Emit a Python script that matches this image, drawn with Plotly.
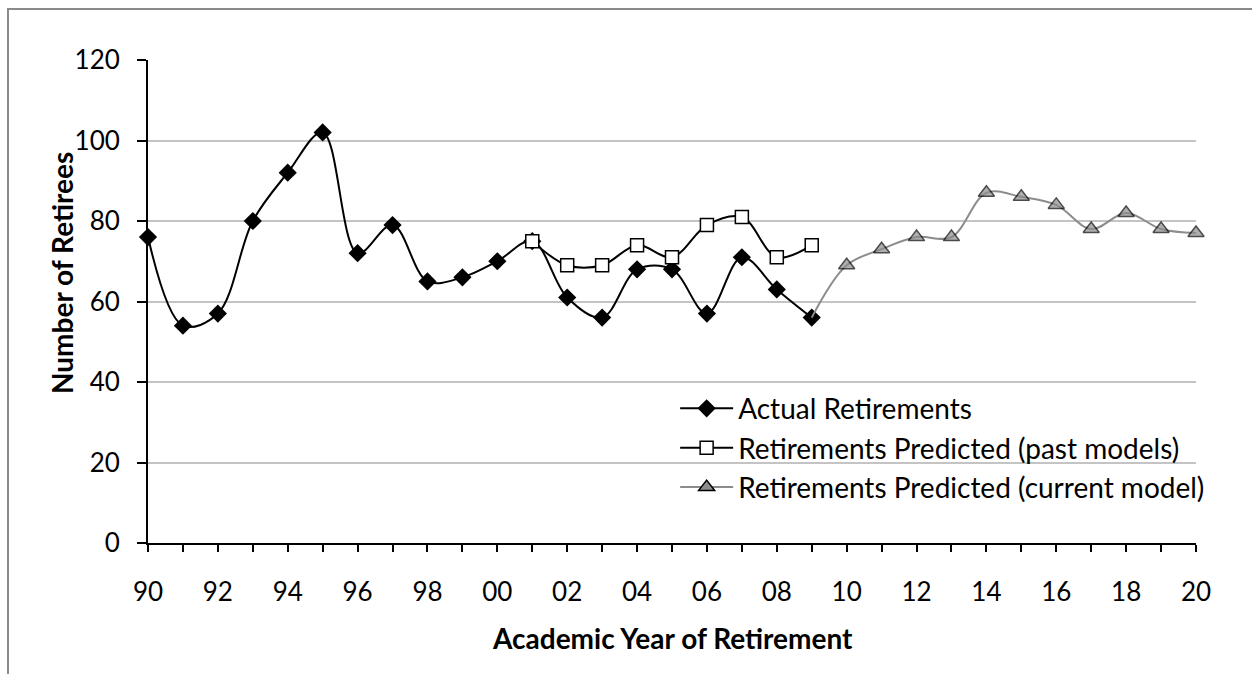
import plotly.graph_objects as go

# Academic years 1990 through 2020, shown as two-digit labels
years = ["90", "91", "92", "93", "94", "95", "96", "97", "98", "99",
         "00", "01", "02", "03", "04", "05", "06", "07", "08", "09",
         "10", "11", "12", "13", "14", "15", "16", "17", "18", "19", "20"]

# Actual retirements, 1990-2009
actual = [76, 54, 57, 80, 92, 102, 72, 79, 65, 66,
          70, 75, 61, 56, 68, 68, 57, 71, 63, 56]

# Predictions from past models, 2001-2009
past_years = ["01", "02", "03", "04", "05", "06", "07", "08", "09"]
past_pred = [75, 69, 69, 74, 71, 79, 81, 71, 74]

# Current model predictions, 2010-2020 (joined to the last actual value in 2009)
current_years = ["09", "10", "11", "12", "13", "14", "15", "16", "17", "18", "19", "20"]
current_pred = [56, 69, 73, 76, 76, 87, 86, 84, 78, 82, 78, 77]

y_ticks = [0, 20, 40, 60, 80, 100, 120]

idx = {y: i for i, y in enumerate(years)}
FONT = "Lato, 'Open Sans', sans-serif"
GRAY = "#8c8c8c"

actual_line = dict(color="black", width=2, shape="spline", smoothing=1)
actual_marker = dict(symbol="diamond", size=14, color="black")
past_line = dict(color="black", width=2, shape="spline", smoothing=1)
past_marker = dict(symbol="square", size=13, color="white",
                   line=dict(color="black", width=1.5))
cur_line = dict(color=GRAY, width=2, shape="spline", smoothing=1)
cur_marker = dict(symbol="triangle-up", size=14, color=GRAY,
                  line=dict(color="black", width=1.5))

fig = go.Figure()

fig.add_trace(go.Scatter(
    x=[idx[y] for y in years[:len(actual)]], y=actual,
    name="Actual Retirements", mode="lines+markers",
    line=actual_line, marker=actual_marker,
    cliponaxis=False, legendgroup="a",
))

fig.add_trace(go.Scatter(
    x=[idx[y] for y in past_years], y=past_pred,
    name="Retirements Predicted (past models)", mode="lines+markers",
    line=past_line, marker=past_marker,
    cliponaxis=False, legendgroup="b",
))

# Current-model curve: the first point (2009) only anchors the line, no marker
fig.add_trace(go.Scatter(
    x=[idx[y] for y in current_years], y=current_pred,
    mode="lines+markers", showlegend=False,
    line=cur_line,
    marker=dict(cur_marker, size=[0] + [14] * (len(current_pred) - 1)),
    cliponaxis=False, legendgroup="c", hoverinfo="skip",
))
# Legend entry for the current model
fig.add_trace(go.Scatter(
    x=[None], y=[None],
    name="Retirements Predicted (current model)", mode="lines+markers",
    line=cur_line, marker=cur_marker, legendgroup="c",
))

W, H = 1252, 674
L, R, T, B = 148, 56, 60, 131

fig.update_layout(
    width=W, height=H,
    margin=dict(l=L, r=R, t=T, b=B),
    paper_bgcolor="white", plot_bgcolor="white",
    font=dict(family=FONT, size=26, color="black"),
    showlegend=True,
    legend=dict(
        x=0.503, y=0.33, xanchor="left", yanchor="top",
        bgcolor="rgba(0,0,0,0)", font=dict(size=28, family=FONT),
        itemwidth=53, traceorder="grouped", tracegroupgap=0,
    ),
    xaxis=dict(
        range=[0, len(years) - 1],
        tickmode="array",
        tickvals=list(range(len(years))),
        ticktext=[y if i % 2 == 0 else "" for i, y in enumerate(years)],
        ticks="outside", ticklen=7, tickwidth=2, tickcolor="black",
        ticklabelstandoff=18,
        showline=True, linecolor="black", linewidth=2,
        showgrid=False, zeroline=False,
        tickfont=dict(size=26, family=FONT),
    ),
    yaxis=dict(
        range=[0, 120],
        tickmode="array", tickvals=y_ticks,
        ticks="outside", ticklen=9, tickwidth=2, tickcolor="black",
        ticklabelstandoff=12,
        showline=True, linecolor="black", linewidth=2,
        showgrid=True, gridcolor="#c4c4c4", gridwidth=2,
        zeroline=False,
        tickfont=dict(size=26, family=FONT),
    ),
    annotations=[
        dict(text="<b>Number of Retirees</b>", textangle=-90,
             xref="paper", yref="paper",
             x=(62 - L) / (W - L - R), y=(H - B - 273) / (H - T - B),
             xanchor="center", yanchor="middle", showarrow=False,
             font=dict(size=28, family=FONT)),
        dict(text="<b>Academic Year of Retirement</b>",
             xref="paper", yref="paper",
             x=0.5, y=(H - B - 638) / (H - T - B),
             xanchor="center", yanchor="middle", showarrow=False,
             font=dict(size=28, family=FONT)),
    ],
    shapes=[
        dict(type="rect", xref="paper", yref="paper",
             x0=(8 - L) / (W - L - R), x1=(W + 40 - L) / (W - L - R),
             y0=(H - B - (H + 40)) / (H - T - B), y1=(H - B - 9) / (H - T - B),
             line=dict(color="#8a8a8a", width=2), layer="below"),
    ],
)

fig.write_html("out.html")
